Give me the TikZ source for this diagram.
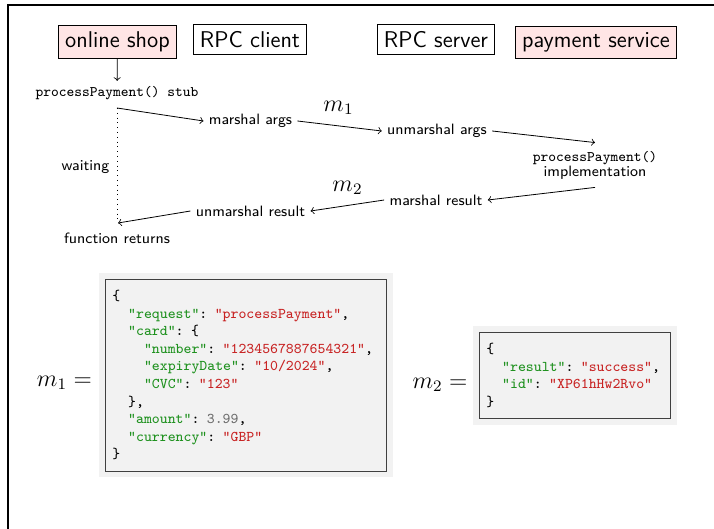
\documentclass[tikz,border=0pt]{standalone}
\usetikzlibrary{backgrounds}
\definecolor{jkey}{RGB}{30,145,30}
\definecolor{jstr}{RGB}{200,35,35}
\definecolor{jnum}{RGB}{110,110,110}
\definecolor{boxpink}{RGB}{255,229,229}
\newcommand\JK[1]{\textcolor{jkey}{"#1"}}
\newcommand\JS[1]{\textcolor{jstr}{"#1"}}
\newcommand\ind{\hphantom{xx}}
\tikzset{
  big/.style={draw, font=\fontsize{11.4}{13}\selectfont\sffamily, anchor=base},
  pinkbox/.style={big, fill=boxpink},
  lab/.style={font=\fontsize{7.5}{9}\selectfont\sffamily, inner sep=2.5pt},
  code/.style={font=\fontsize{7.3}{8.8}\selectfont\ttfamily, inner sep=2.5pt},
  arr/.style={->},
  json/.style={draw=black!75, fill=gray!10, align=left, anchor=north west,
    font=\fontsize{7.45}{8.78}\selectfont\ttfamily, inner xsep=3.5pt, inner ysep=5.5pt},
  bigmath/.style={font=\fontsize{12}{14}\selectfont, inner sep=0pt}
}
\begin{document}
\begin{tikzpicture}[x=0.5pt,y=-0.5pt]
\useasboundingbox (0,0) rectangle (714,529);
\draw[line width=0.55pt] (8,529) -- (8,5) -- (714,5);

\node[pinkbox] (shop) at (117.5,47.5) {online shop};
\node[big] (cli) at (250,47.5) {RPC client};
\node[big] (srv) at (436,47.5) {RPC server};
\node[pinkbox] (pay) at (596,47.5) {payment service};

\node[code] (stub) at (117,93) {processPayment() stub};
\node[lab] (ma) at (250.5,121) {marshal args};
\node[lab] (ua) at (437,131) {unmarshal args};
\node[lab, align=center, font=\fontsize{7.5}{7.5}\selectfont\sffamily, inner ysep=4pt] (impl) at (595,165)
  {{\fontsize{7.3}{7.5}\selectfont\ttfamily processPayment()}\\implementation};
\node[lab] (mr) at (436,200) {marshal result};
\node[lab] (ur) at (250.5,211) {unmarshal result};
\node[lab] (fret) at (117,238) {function returns};
\node[lab] (wait) at (85.5,167) {waiting};

\node[bigmath] (m1) at (338.5,108) {$m_1$};
\node[bigmath] (m2) at (347.5,188) {$m_2$};

\coordinate (s1) at (117,108);
\coordinate (fr) at (118,223);

\draw[arr] (shop) -- (stub);
\draw[arr] (s1) -- (ma.west);
\draw[arr] (ma.east) -- (ua.west);
\draw[arr] (ua.east) -- (impl.north);
\draw[arr] (impl.south) -- (mr.east);
\draw[arr] (mr.west) -- (ur.east);
\draw[arr] (ur.west) -- (fr);
\draw[dotted] (s1) -- (s1 |- fr);

\node[bigmath] (eq1) at (64.5,383) {$m_1 =$};
\node[bigmath] (eq2) at (440,385) {$m_2 =$};

\node[json, text width=133.5pt] (j1) at (105,279) {\{\\
\ind\JK{request}: \JS{processPayment},\\
\ind\JK{card}: \{\\
\ind\ind\JK{number}: \JS{1234567887654321},\\
\ind\ind\JK{expiryDate}: \JS{10/2024},\\
\ind\ind\JK{CVC}: \JS{123}\\
\ind\},\\
\ind\JK{amount}: \textcolor{jnum}{3.99},\\
\ind\JK{currency}: \JS{GBP}\\
\}};

\node[json, text width=88.5pt] (j2) at (479,332) {\{\\
\ind\JK{result}: \JS{success},\\
\ind\JK{id}: \JS{XP61hHw2Rvo}\\
\}};

\begin{scope}[on background layer]
\fill[gray!10] ([shift={(-6,6)}]j1.south west) rectangle ([shift={(6,-6)}]j1.north east);
\fill[gray!10] ([shift={(-6,6)}]j2.south west) rectangle ([shift={(6,-6)}]j2.north east);
\end{scope}
\end{tikzpicture}
\end{document}
